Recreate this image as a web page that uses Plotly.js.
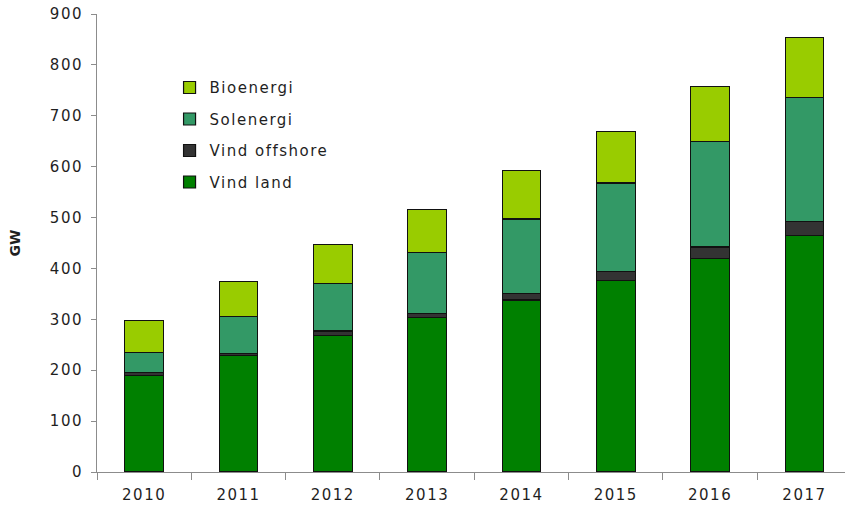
<!DOCTYPE html>
<html>
<head>
<meta charset="utf-8">
<script src="https://cdn.plot.ly/plotly-3.0.1.min.js"></script>
<style>
  html, body { margin: 0; padding: 0; background: #fff; }
  #chart { width: 845px; height: 508px; }
  .xtick text, .ytick text { letter-spacing: 1.5px; }
  .legendtext { letter-spacing: 1.5px; }
</style>
</head>
<body>
<div id="chart"></div>
<script>
const years = ["2010", "2011", "2012", "2013", "2014", "2015", "2016", "2017"];
const vindLand = [190, 229, 269, 303, 338, 377, 420, 465];
const vindOffshore = [5, 4, 8, 8, 13, 17, 22, 27];
const solenergi = [40, 73, 93, 120, 146, 174, 207, 244];
const bioenergi = [63, 69, 77, 85, 95, 101, 108, 118];
const yTicks = [0, 100, 200, 300, 400, 500, 600, 700, 800, 900];

const names = ["Vind land", "Vind offshore", "Solenergi", "Bioenergi"];
const series = [vindLand, vindOffshore, solenergi, bioenergi];
const colors = ["#008000", "#333333", "#339966", "#99CC00"];

const traces = series.map((vals, i) => ({
  type: "bar",
  name: names[i],
  legendgroup: "g" + i,
  legendrank: 10 - i,
  x: years,
  y: vals,
  width: 0.41,
  marker: { color: colors[i], line: { color: "#111111", width: 1.2 } },
  hoverinfo: "x+y+name"
}));

const layout = {
  width: 845,
  height: 508,
  margin: { l: 97, r: 0, t: 14, b: 36 },
  barmode: "stack",
  paper_bgcolor: "#ffffff",
  plot_bgcolor: "#ffffff",
  font: { family: "DejaVu Sans, Verdana, sans-serif", size: 13, color: "#1f1f1f" },
  showlegend: true,
  legend: {
    x: 0.097, y: 0.875, xanchor: "left", yanchor: "top",
    traceorder: "grouped",
    tracegroupgap: 9,
    font: { size: 15, color: "#1f1f1f" },
    bgcolor: "rgba(0,0,0,0)"
  },
  xaxis: {
    type: "category",
    range: [-0.5, 7.43],
    showgrid: false,
    showline: true,
    linecolor: "#8c8c8c",
    linewidth: 1,
    ticks: "outside",
    tickson: "boundaries",
    ticklen: 7,
    tickcolor: "#8c8c8c",
    tickfont: { size: 15, color: "#1f1f1f" },
    ticklabelstandoff: 9,
    zeroline: false
  },
  yaxis: {
    range: [0, 900],
    tickvals: yTicks,
    ticktext: yTicks.map(String),
    showgrid: false,
    showline: true,
    linecolor: "#8c8c8c",
    linewidth: 1,
    ticks: "outside",
    ticklen: 5,
    tickcolor: "#8c8c8c",
    tickfont: { size: 15, color: "#1f1f1f" },
    ticklabelstandoff: 5,
    zeroline: false,
    title: { text: "<b>GW</b>", font: { size: 14, color: "#1f1f1f" }, standoff: 25 }
  }
};

Plotly.newPlot("chart", traces, layout, { displayModeBar: false, staticPlot: true });
</script>
</body>
</html>
